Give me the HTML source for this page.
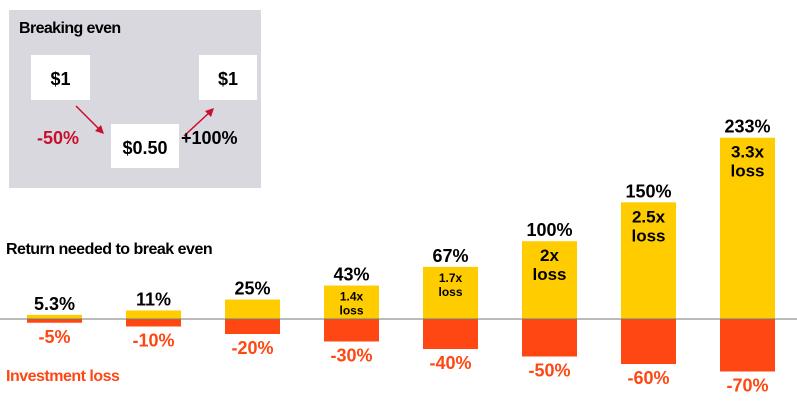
<!DOCTYPE html>
<html><head><meta charset="utf-8"><style>
html,body{margin:0;padding:0;background:#fff;width:797px;height:404px;overflow:hidden}
svg text{font-family:"Liberation Sans",sans-serif;font-weight:bold}
</style></head><body>
<svg id="chart" width="797" height="404" viewBox="0 0 797 404" xmlns="http://www.w3.org/2000/svg">
<g>
<rect x="9" y="10" width="252" height="178" fill="#d9d8df"/>
<text x="19" y="33" font-size="16" fill="#000" letter-spacing="-0.6">Breaking even</text>
<rect x="31" y="55" width="59" height="45" fill="#fff"/>
<text x="60.5" y="85" font-size="18" text-anchor="middle">$1</text>
<rect x="111" y="124" width="68" height="44" fill="#fff"/>
<text x="145" y="154" font-size="18" text-anchor="middle">$0.50</text>
<rect x="199" y="55" width="58" height="45" fill="#fff"/>
<text x="228" y="85" font-size="18" text-anchor="middle">$1</text>
<line x1="76" y1="106" x2="101" y2="131" stroke="#c8102e" stroke-width="1.5"/>
<polygon points="104,134 95,131 101,125" fill="#c8102e"/>
<line x1="184" y1="136" x2="210" y2="112" stroke="#c8102e" stroke-width="1.5"/>
<polygon points="214,108 211,117 205,111" fill="#c8102e"/>
<text x="37" y="144" font-size="18" fill="#c8102e">-50%</text>
<text x="181" y="144" font-size="18" fill="#000">+100%</text>
</g>
<text x="6" y="254" font-size="16" fill="#000" letter-spacing="-0.5">Return needed to break even</text>
<text x="6" y="381" font-size="16" fill="#ff4713" letter-spacing="-0.5">Investment loss</text>
<g id="bars"></g>
<line x1="0" y1="319" x2="797" y2="319" stroke="#777" stroke-width="1"/>
</svg>
<script>
const gains = [5.3, 11, 25, 43, 67, 100, 150, 233];
const gainLabels = ["5.3%", "11%", "25%", "43%", "67%", "100%", "150%", "233%"];
const losses = [-5, -10, -20, -30, -40, -50, -60, -70];
const lossLabels = ["-5%", "-10%", "-20%", "-30%", "-40%", "-50%", "-60%", "-70%"];
const multiples = ["", "", "", "1.4x", "1.7x", "2x", "2.5x", "3.3x"];

const base = 319;
function xCenter(i){ return 54.5 + i * 99; }
function yPos(v){ return v >= 0 ? base - v * 0.778 : base - v * 0.75; }
const ns = "http://www.w3.org/2000/svg";
const g = document.getElementById("bars");
function mk(tag, attrs){ const e = document.createElementNS(ns, tag); for (const k in attrs) e.setAttribute(k, attrs[k]); g.appendChild(e); return e; }
const bw = 55;
gains.forEach((v, i) => {
  const cx = xCenter(i);
  const yt = yPos(v);
  const r = mk("rect", {x: cx - bw/2, y: yt, width: bw, height: base - yt, fill: "#ffcc00"});
  
  
  const t = mk("text", {x: cx, y: yt - 5, "font-size": 18, "text-anchor": "middle", fill: "#000"});
  t.textContent = gainLabels[i];
  
  
  if (multiples[i]) {
    const big = i >= 5;
    const fs = big ? 17 : 12;
    const m1 = mk("text", {x: cx, y: yt + (big ? 20 : 15), "font-size": fs, "text-anchor": "middle", fill: "#000"});
    m1.textContent = multiples[i];
    
    
    const m2 = mk("text", {x: cx, y: yt + (big ? 39 : 29), "font-size": fs, "text-anchor": "middle", fill: "#000"});
    m2.textContent = "loss";
    
    
  }
});
losses.forEach((v, i) => {
  const cx = xCenter(i);
  const yb = yPos(v);
  const r = mk("rect", {x: cx - bw/2, y: base, width: bw, height: yb - base, fill: "#ff4713"});
  
  
  const t = mk("text", {x: cx, y: yb + 20, "font-size": 18, "text-anchor": "middle", fill: "#ff4713"});
  t.textContent = lossLabels[i];
  
  
});
</script>
</body></html>
